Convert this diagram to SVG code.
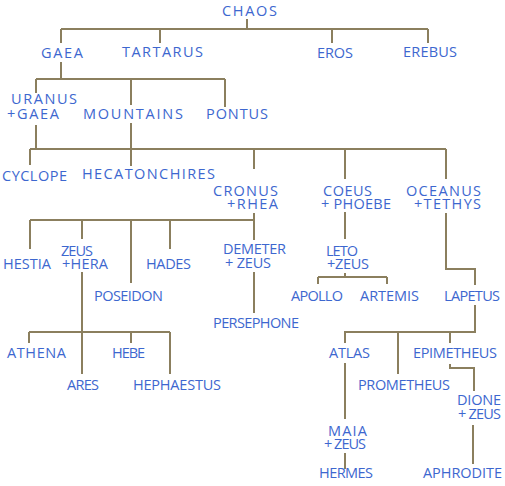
<svg xmlns="http://www.w3.org/2000/svg" width="505" height="486" viewBox="0 0 505 486">
<style>
.l{fill:none;stroke:#8b7f5e;stroke-width:2}
text{font-family:"Open Sans","DejaVu Sans",sans-serif;font-size:14.5px;fill:#3d67cf}
</style>
<rect width="505" height="486" fill="#ffffff"/>
<g id="connectors" class="l">
<path d="M247 19V29M61 29H428M61 29V43M160 29V43M332 29V43M428 29V43"/>
<path d="M61 62V79M36 79H225M36 79V93M131 79V105M225 79V107"/>
<path d="M36 125V149M131 123V166M30 149H446M30 149V165M254 149V169M345 149V179M446 149V179"/>
<path d="M254 213V240M30 220H254M30 220V249M82 220V239M131 220V283M170 220V249"/>
<path d="M345 212V239M446 213V269H475V285"/>
<path d="M254 272V313"/>
<path d="M345 273V277M318 277H387M318 277V284M387 277V284"/>
<path d="M82 272V374M29 332H170M29 332V343M131 332V343M170 332V374"/>
<path d="M475 305V332H345V343M398 332V374M450 332V343"/>
<path d="M345 363V419M345 453V469"/>
<path d="M450 364V368H474V391M473 425V464"/>
</g>
<g id="chaos"><text x="222" y="16" textLength="55">CHAOS</text></g>
<g id="gaea"><text x="41" y="58" textLength="42">GAEA</text></g>
<g id="tartarus"><text x="122" y="57" textLength="81">TARTARUS</text></g>
<g id="eros"><text x="317" y="58" textLength="36">EROS</text></g>
<g id="erebus"><text x="403" y="57" textLength="54">EREBUS</text></g>
<g id="uranus-gaea"><text x="11" y="104" textLength="66">URANUS</text><text x="7" y="119" textLength="52">+GAEA</text></g>
<g id="mountains"><text x="83" y="119" textLength="100">MOUNTAINS</text></g>
<g id="pontus"><text x="206" y="119" textLength="62">PONTUS</text></g>
<g id="cyclope"><text x="2" y="181" textLength="65">CYCLOPE</text></g>
<g id="hecatonchires"><text x="82" y="179" textLength="133">HECATONCHIRES</text></g>
<g id="cronus-rhea"><text x="213" y="196" textLength="65">CRONUS</text><text x="227" y="209" textLength="51">+RHEA</text></g>
<g id="coeus-phoebe"><text x="323" y="196" textLength="49">COEUS</text><text x="321" y="209" textLength="70">+ PHOEBE</text></g>
<g id="oceanus-tethys"><text x="406" y="196" textLength="75">OCEANUS</text><text x="414" y="209" textLength="67">+TETHYS</text></g>
<g id="hestia"><text x="3" y="269" textLength="48">HESTIA</text></g>
<g id="zeus-hera"><text x="61" y="256" textLength="32">ZEUS</text><text x="62" y="269" textLength="46">+HERA</text></g>
<g id="hades"><text x="146" y="269" textLength="45">HADES</text></g>
<g id="demeter-zeus"><text x="223" y="254" textLength="63">DEMETER</text><text x="225" y="268" textLength="46">+ ZEUS</text></g>
<g id="leto-zeus"><text x="326" y="256" textLength="32">LETO</text><text x="327" y="269" textLength="42">+ZEUS</text></g>
<g id="poseidon"><text x="94" y="301" textLength="69">POSEIDON</text></g>
<g id="apollo"><text x="291" y="301" textLength="52">APOLLO</text></g>
<g id="artemis"><text x="360" y="301" textLength="59">ARTEMIS</text></g>
<g id="lapetus"><text x="444" y="301" textLength="56">LAPETUS</text></g>
<g id="persephone"><text x="213" y="328" textLength="86">PERSEPHONE</text></g>
<g id="athena"><text x="7" y="358" textLength="59">ATHENA</text></g>
<g id="hebe"><text x="112" y="358" textLength="33">HEBE</text></g>
<g id="atlas"><text x="329" y="358" textLength="41">ATLAS</text></g>
<g id="epimetheus"><text x="413" y="358" textLength="84">EPIMETHEUS</text></g>
<g id="ares"><text x="67" y="390" textLength="32">ARES</text></g>
<g id="hephaestus"><text x="133" y="390" textLength="88">HEPHAESTUS</text></g>
<g id="prometheus"><text x="358" y="390" textLength="92">PROMETHEUS</text></g>
<g id="dione-zeus"><text x="457" y="405" textLength="44">DIONE</text><text x="458" y="419" textLength="43">+ ZEUS</text></g>
<g id="maia-zeus"><text x="328" y="436" textLength="39">MAIA</text><text x="324" y="449" textLength="42">+ ZEUS</text></g>
<g id="hermes"><text x="319" y="478" textLength="54">HERMES</text></g>
<g id="aphrodite"><text x="423" y="478" textLength="79">APHRODITE</text></g>
</svg>
